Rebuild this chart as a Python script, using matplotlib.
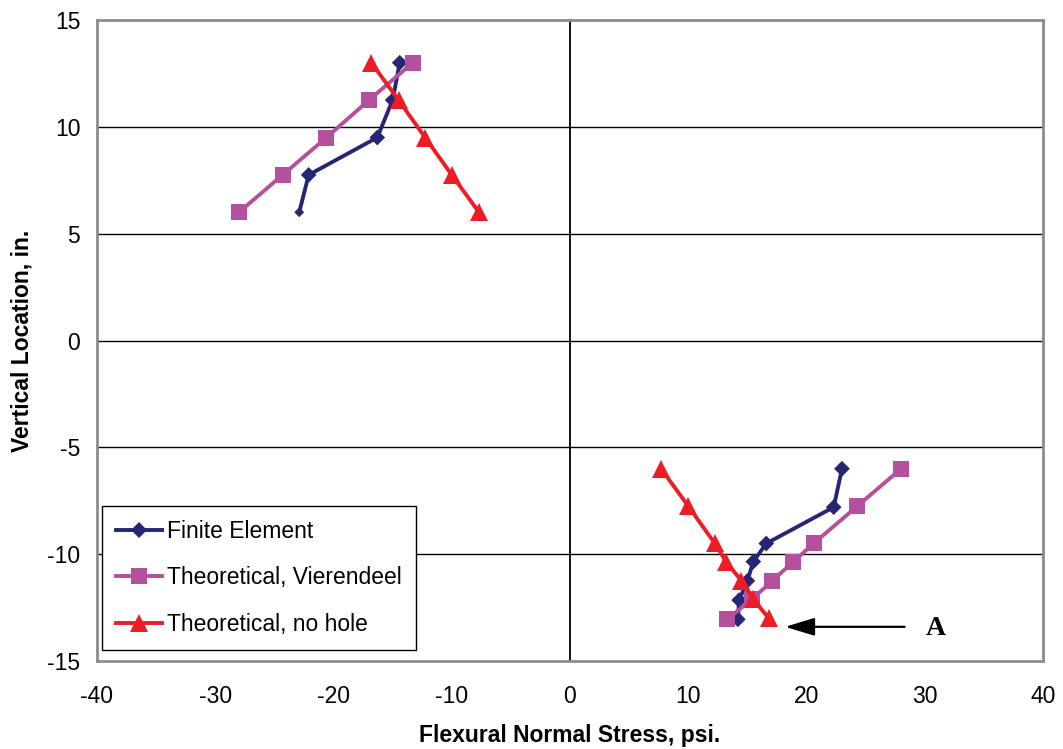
import matplotlib
matplotlib.use("Agg")
import matplotlib.pyplot as plt
from matplotlib.lines import Line2D
import numpy as np

# ---------------- data ----------------
fe_x = [-22.9, -22.1, -16.3, -15.0, -14.4, np.nan,
        23.0, 22.3, 16.6, 15.5, 15.0, 14.3, 14.2]
fe_y = [6.0, 7.75, 9.5, 11.25, 13.0, np.nan,
        -6.0, -7.8, -9.5, -10.35, -11.25, -12.15, -13.05]
fe_size = [5.0, 8.0, 8.0, 8.0, 8.0, 0,
           8.0, 8.0, 8.0, 8.0, 8.0, 8.0, 8.0]

vi_x = [-28.0, -24.3, -20.6, -17.0, -13.3, np.nan,
        28.0, 24.3, 20.6, 18.9, 17.1, 15.4, 13.3]
vi_y = [6.0, 7.75, 9.5, 11.25, 13.0, np.nan,
        -6.0, -7.75, -9.5, -10.35, -11.25, -12.1, -13.05]

nh_x = [-16.8, -14.5, -12.25, -10.0, -7.7, np.nan,
        7.7, 10.0, 12.25, 13.2, 14.5, 15.5, 16.8]
nh_y = [13.0, 11.25, 9.5, 7.75, 6.0, np.nan,
        -6.0, -7.75, -9.5, -10.35, -11.25, -12.1, -13.0]

labels = ["Finite Element", "Theoretical, Vierendeel", "Theoretical, no hole"]
xticks = [-40, -30, -20, -10, 0, 10, 20, 30, 40]
yticks = [-15, -10, -5, 0, 5, 10, 15]

arrow_from = (28.3, -13.4)
arrow_to = (18.2, -13.4)
note_text = "A"
note_pos = (30.9, -13.5)

# ---------------- style ----------------
c_fe = "#262673"
c_vi = "#B5509F"
c_nh = "#EE1C25"

plt.rcParams["font.family"] = ["Liberation Sans", "DejaVu Sans"]
plt.rcParams["axes.unicode_minus"] = False

fig = plt.figure(figsize=(10.63, 7.49), dpi=100)
ax = fig.add_axes([97 / 1063, 1 - 661 / 749, 946 / 1063, 641 / 749])

ax.set_xlim(-40, 40)
ax.set_ylim(-15, 15)
ax.set_xticks(xticks)
ax.set_yticks(yticks)

# gridlines and zero axis
for yv in yticks[1:-1]:
    ax.axhline(yv, color="black", lw=1.0, zorder=1)
ax.axvline(0, color="black", lw=1.3, zorder=1)

for sp in ax.spines.values():
    sp.set_color("#8c8c8c")
    sp.set_linewidth(2.0)

ax.tick_params(axis="both", length=0, labelsize=16.5)
ax.tick_params(axis="x", pad=17)
ax.tick_params(axis="y", pad=12)

lw = 2.8
# Finite element
ax.plot(fe_x, fe_y, color=c_fe, lw=lw, zorder=3)
fe_x_arr = np.array(fe_x)
mask = ~np.isnan(fe_x_arr)
ax.scatter(fe_x_arr[mask], np.array(fe_y)[mask], marker="D",
           s=(np.array(fe_size)[mask]) ** 2, color=c_fe, zorder=3.5, linewidths=0)

# Vierendeel
ax.plot(vi_x, vi_y, color=c_vi, lw=lw, marker="s", ms=11.5, mew=0, zorder=4)
# No hole
ax.plot(nh_x, nh_y, color=c_nh, lw=lw, marker="^", ms=13, mew=0, zorder=5)

# arrow and note
ax.annotate("", xy=arrow_to, xytext=arrow_from,
            arrowprops=dict(arrowstyle="-|>,head_length=1.8,head_width=0.55",
                            color="black", lw=1.6, shrinkA=0, shrinkB=0),
            zorder=6)
ax.text(note_pos[0], note_pos[1], note_text, fontsize=20, fontweight="bold",
        family=["Liberation Serif", "DejaVu Serif"], ha="center", va="center")

ax.set_xlabel("Flexural Normal Stress, psi.", fontsize=16.5, fontweight="bold", labelpad=12)
ax.set_ylabel("Vertical Location, in.", fontsize=16.5, fontweight="bold", labelpad=10)

handles = [
    Line2D([], [], color=c_fe, lw=lw, marker="D", ms=8, mew=0),
    Line2D([], [], color=c_vi, lw=lw, marker="s", ms=11.5, mew=0),
    Line2D([], [], color=c_nh, lw=lw, marker="^", ms=13, mew=0),
]
leg = ax.legend(handles, labels, loc="lower left",
                bbox_to_anchor=(5 / 946, 11 / 641), fontsize=16.5,
                frameon=True, fancybox=False, framealpha=1, edgecolor="black",
                handlelength=2.0, handletextpad=0.25, labelspacing=1.04,
                borderpad=0.6, borderaxespad=0)
leg.get_frame().set_linewidth(1.0)
leg.set_zorder(7)

fig.savefig("out.png", dpi=100)
